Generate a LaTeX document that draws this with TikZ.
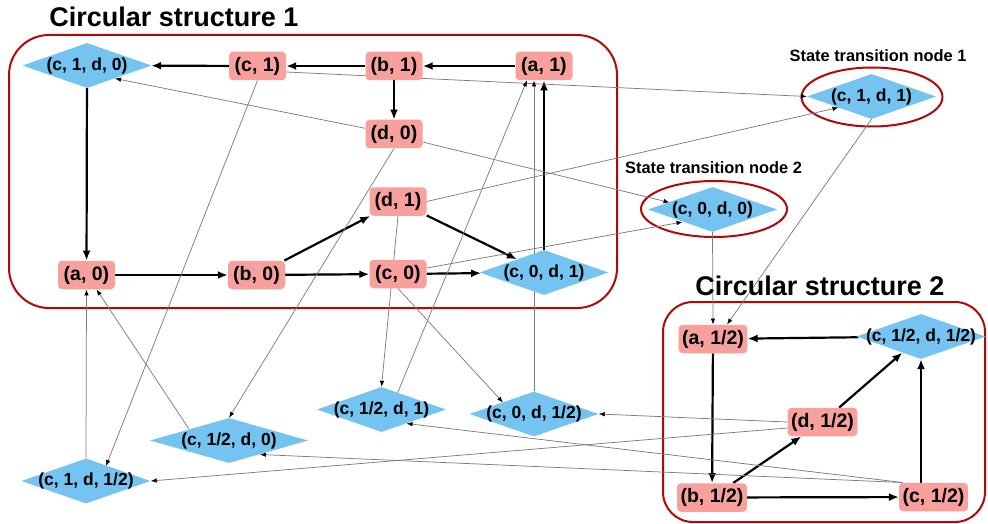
\documentclass[tikz,border=0pt]{standalone}
\usepackage{fontspec}
\setmainfont{Liberation Sans}
\usetikzlibrary{shapes.geometric,arrows.meta,backgrounds}
\definecolor{statefill}{RGB}{248,160,155}
\definecolor{jointfill}{RGB}{117,195,240}
\definecolor{groupred}{RGB}{178,8,8}
\definecolor{linkgray}{RGB}{125,125,125}
% labels of joint states may run past the diamond tips
\newcommand{\overhang}[1]{\makebox[0pt]{#1}}

\begin{document}
\begin{tikzpicture}[x=1pt,y=-1pt,
  state/.style={rectangle, rounded corners=4pt, fill=statefill, minimum width=57pt,
    minimum height=28.5pt, inner xsep=3.5pt, inner ysep=0pt,
    font=\bfseries\fontsize{19.5}{22}\selectfont},
  joint/.style={diamond, fill=jointfill, minimum width=129pt, minimum height=45pt,
    inner sep=0pt, font=\bfseries\fontsize{17.5}{20}\selectfont},
  main/.style={line width=2.2pt, -{Latex[length=10pt,width=8pt]}},
  cross/.style={draw=linkgray, line width=0.75pt, -{Latex[length=6pt,width=4.5pt,color=black]}},
  group/.style={draw=groupred, line width=2pt},
  title/.style={font=\bfseries\fontsize{27}{30}\selectfont, anchor=base},
  caption/.style={font=\bfseries\fontsize{16.4}{19}\selectfont, anchor=base}]

\useasboundingbox (0,0) rectangle (988,524);

% ---- circular structure 1
\node[joint] (c1d0) at (87,65.5) {\overhang{(c, 1, d, 0)}};
\node[state] (c1) at (257.5,66) {(c, 1)};
\node[state] (b1) at (394,66) {(b, 1)};
\node[state] (a1) at (544,66) {(a, 1)};
\node[state] (d0) at (394,134) {(d, 0)};
\node[state] (d1) at (398,201.5) {(d, 1)};
\node[state] (a0) at (86.5,275) {(a, 0)};
\node[state] (b0) at (256.5,275) {(b, 0)};
\node[state] (c0) at (398,274) {(c, 0)};
\node[joint] (c0d1) at (544,272.5) {\overhang{(c, 0, d, 1)}};

% ---- state transition nodes
\node[joint] (c1d1) at (871.5,96.5) {\overhang{(c, 1, d, 1)}};
\node[joint] (c0d0) at (712.5,209.5) {\overhang{(c, 0, d, 0)}};

% ---- circular structure 2
\node[state] (a12) at (713,339) {(a, 1/2)};
\node[joint] (c12d12) at (921,336.5) {\overhang{(c, 1/2, d, 1/2)}};
\node[state] (d12) at (822.5,422) {(d, 1/2)};
\node[state] (b12) at (712,497.5) {(b, 1/2)};
\node[state] (c12) at (933.5,497) {(c, 1/2)};

% ---- remaining joint states
\node[joint] (c12d1) at (381.5,409.5) {\overhang{(c, 1/2, d, 1)}};
\node[joint] (c0dh) at (534,414) {\overhang{(c, 0, d, 1/2)}};
\node[joint, minimum width=158pt] (c12d0) at (229,440.5) {\overhang{(c, 1/2, d, 0)}};
\node[joint] (c1dh) at (86,481) {\overhang{(c, 1, d, 1/2)}};

% ---- headings
\node[title] (t1) at (174,27) {Circular structure 1};
\node[title] (t2) at (820,295) {Circular structure 2};
\node[caption] (s1) at (878,62) {State transition node 1};
\node[caption] (s2) at (713.5,173) {State transition node 2};

\begin{pgfonlayer}{background}
  % frames
  \draw[group, rounded corners=40pt] (9,35) rectangle (617,308);
  \draw[group, rounded corners=30pt] (663,302) rectangle (985,522);
  \draw[group] (872,97) ellipse [x radius=70.5, y radius=29.5];
  \draw[group] (714,209) ellipse [x radius=73, y radius=28];

  % cycle 1
  \draw[main] (a1) -- (b1);
  \draw[main] (b1) -- (c1);
  \draw[main] (c1) -- (c1d0);
  \draw[main] (c1d0) -- (a0);
  \draw[main] (a0) -- (b0);
  \draw[main] (b0) -- (c0);
  \draw[main] (b0) -- (d1);
  \draw[main] (b1) -- (d0);
  \draw[main] (d1) -- (c0d1);
  \draw[main] (c0) -- (c0d1);
  \draw[main] (c0d1) -- (a1);

  % cycle 2
  \draw[main] (c12d12) -- (a12);
  \draw[main] (a12) -- (b12);
  \draw[main] (b12) -- (d12);
  \draw[main] (b12) -- (c12);
  \draw[main] (d12) -- (c12d12);
  \draw[main] (c12.north -| c12d12.south) -- (c12d12.south);

  % cross links
  \draw[cross] ([yshift=-6pt]c1.east) -- (c1d1.west);
  \draw[cross] (d0) -- ([shift={(28,13)}]c1d0.center);
  \draw[cross] ([yshift=-8pt]d0.east) -- ([shift={(-43,-7)}]c0d0.center);
  \draw[cross] ([yshift=6pt]c0.east) -- ([shift={(-30,12.5)}]c0d0.center);
  \draw[cross] (d1.east) -- ([shift={(-33,11)}]c1d1.center);
  \draw[cross] (c1d1.south) -- ([xshift=14pt]a12.north);
  \draw[cross] (c0d0.south) -- (a12.north);
  \draw[cross] (c1.south) -- ([shift={(20,-15)}]c1dh.center);
  \draw[cross] (c1dh.north) -- (a0.south);
  \draw[cross] ([shift={(-40,-11.5)}]c12d0.center) -- ([xshift=10pt]a0.south);
  \draw[cross] (d0.south) -- (c12d0.north);
  \draw[cross] ([shift={(16,-16.5)}]c12d1.center) -- ([xshift=-17pt]a1.south);
  \draw[cross] (c0dh.north) -- (c0dh.north |- a1.south);
  \draw[cross] (d1.south) -- (c12d1.north);
  \draw[cross] (c0.south) -- ([shift={(-31,-11.5)}]c0dh.center);
  \draw[cross] (d12.west) -- (c0dh.east);
  \draw[cross] ([yshift=-6pt]d12.west) -- (c1dh.east);
  \draw[cross] ([xshift=4pt]c12.north west) -- ([shift={(25,14)}]c12d1.center);
  \draw[cross] ([xshift=4pt]c12.north west) -- ([shift={(31,14)}]c12d0.center);
\end{pgfonlayer}
\end{tikzpicture}
\end{document}
